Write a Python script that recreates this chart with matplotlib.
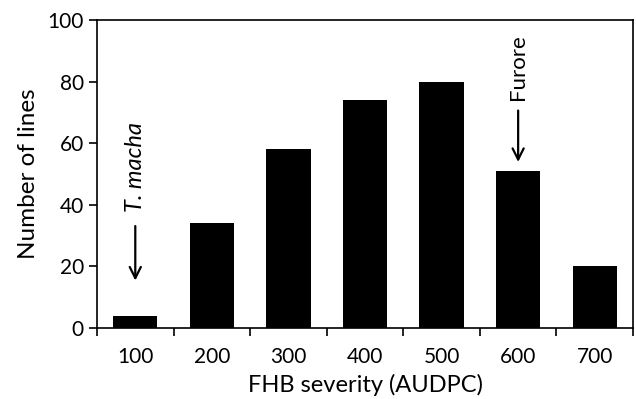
import matplotlib
matplotlib.use("Agg")
import matplotlib.pyplot as plt
import numpy as np

categories = ["100", "200", "300", "400", "500", "600", "700"]
counts = [4, 34, 58, 74, 80, 51, 20]
y_ticks = [0, 20, 40, 60, 80, 100]

plt.rcParams['font.family'] = ['Lato', 'DejaVu Sans']

fig = plt.figure(figsize=(6.36, 3.99), dpi=100)
ax = fig.add_axes([97/636, 1-328/399, (633-97)/636, (328-20)/399])

x = np.arange(len(categories))
ax.bar(x, counts, width=0.58, color="black")
ax.set_xlim(-0.5, len(categories)-0.5)
ax.set_ylim(0, 100)
ax.set_yticks(y_ticks)
ax.set_xticks(x)
ax.set_xticklabels(categories)
ax.set_xticks(np.arange(-0.5, len(categories)), minor=True)
ax.tick_params(axis='x', which='major', length=0, labelsize=15, pad=14)
ax.tick_params(axis='x', which='minor', length=6, width=1.2, direction='out')
ax.tick_params(axis='y', length=6, width=1.2, direction='out', labelsize=15)
for s in ax.spines.values():
    s.set_linewidth(1.2)

ax.set_xlabel("FHB severity (AUDPC)", fontsize=17, labelpad=5)
ax.set_ylabel("Number of lines", fontsize=17.5, labelpad=6)

# annotations
ax.annotate("", xy=(0, 14.5), xytext=(0, 34),
            arrowprops=dict(arrowstyle="->", color="black", lw=1.6, mutation_scale=20))
ax.text(0, 37.5, "T. macha", rotation=90, fontsize=17, style='italic',
        ha='center', va='bottom')
ax.annotate("", xy=(5, 53), xytext=(5, 71.5),
            arrowprops=dict(arrowstyle="->", color="black", lw=1.6, mutation_scale=20))
ax.text(5, 74, "Furore", rotation=90, fontsize=16, ha='center', va='bottom')

fig.savefig("out.png", dpi=100)
